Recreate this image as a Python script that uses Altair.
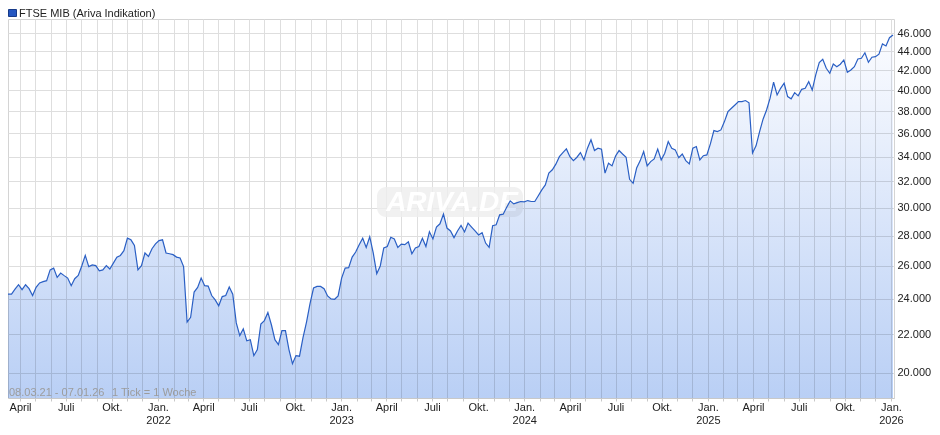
import altair as alt
import pandas as pd

# Weekly FTSE MIB values (index points)
values = [
    24260, 24260, 24560, 24830, 24530, 24830, 24590, 24180, 24670, 24940,
    25020, 25080, 25750, 25860, 25280, 25550, 25390, 25240, 24770, 25200,
    25400, 26000, 26680, 25960, 26070, 26020, 25690, 25750, 26020, 25810,
    26180, 26570, 26680, 26990, 27830, 27720, 27340, 25750, 26020, 26840,
    26610, 27120, 27450, 27670, 27720, 26840, 26790, 26730, 26570, 26510,
    25960, 22660, 22920, 24390, 24670, 25240, 24770, 24750, 24180, 23920,
    23580, 24120, 24180, 24690, 24260, 22610, 21920, 22290, 21640, 21700,
    20870, 21180, 22550, 22740, 23200, 22510, 21700, 21440, 22190, 22190,
    21180, 20460, 20870, 20840, 21810, 22660, 23700, 24630, 24730, 24730,
    24590, 24160, 23980, 23960, 24160, 25240, 25860, 25890, 26570, 26900,
    27390, 27830, 27210, 27930, 26840, 25510, 26000, 27170, 27270, 27890,
    27780, 27210, 27430, 27390, 27580, 26790, 27170, 27270, 27830, 27270,
    28280, 27780, 28600, 28830, 29520, 28530, 28330, 27870, 28330, 28710,
    28260, 28880, 28600, 28330, 28050, 28210, 27500, 27210, 28690, 28760,
    29470, 29520, 30020, 30500, 30270, 30370, 30450, 30420, 30520, 30450,
    30450, 30880, 31330, 31710, 32640, 32910, 33370, 33990, 34330, 34640,
    33990, 33660, 33940, 34330, 33720, 34700, 35420, 34500, 34700, 34620,
    32640, 33450, 33230, 34040, 34500, 34210, 33940, 32150, 31840, 33050,
    33640, 34410, 33230, 33580, 33800, 34620, 33720, 34270, 35270, 34700,
    34560, 33900, 34210, 33660, 33390, 34700, 34840, 33720, 34070, 34130,
    35070, 36230, 36140, 36290, 37040, 37950, 38270, 38580, 38900, 38900,
    39000, 38780, 34300, 34900, 36110, 37260, 38110, 39230, 40790, 39540,
    40190, 40690, 39380, 39160, 39760, 39450, 40090, 40190, 40850, 40020,
    41530, 42800, 43160, 42210, 41700, 42660, 42380, 42630, 43080, 41800,
    42030, 42380, 43190, 43260, 43850, 42840, 43370, 43430, 43690, 44810,
    44590, 45500, 45800,
]
start_date = "2021-03-08"
dates = pd.date_range(start=start_date, periods=len(values), freq="7D").strftime("%Y-%m-%d")
df = pd.DataFrame({"date": list(dates), "value": values})

y_ticks = list(range(20000, 46001, 2000))
y_min, y_max = 18810, 47630
title_text = "FTSE MIB (Ariva Indikation)"
range_text = "08.03.21 - 07.01.26"
tick_text = "1 Tick = 1 Woche"
watermark = "ARIVA.DE"

W, H = 886, 379
FONT = "Liberation Sans"
GRID = "#dedede"

x_scale = alt.Scale(
    type="utc",
    domain=[alt.DateTime(year=2021, month=3, date=8, utc=True),
            alt.DateTime(year=2026, month=1, date=7, utc=True)],
)
y_scale = alt.Scale(type="log", domain=[y_min, y_max], nice=False, zero=False)

x_axis = alt.Axis(
    title=None,
    orient="bottom",
    tickCount={"interval": "month", "step": 1},
    grid=True,
    gridColor=GRID,
    gridWidth=1,
    domain=True,
    domainColor="#c8c8c8",
    ticks=True,
    tickColor="#c8c8c8",
    tickSize=3,
    labelPadding=0,
    labelOverlap=False,
    labelFlush=False,
    labelFont=FONT,
    labelFontSize=11,
    labelColor="#222222",
    labelLineHeight=13,
    labelExpr=(
        "utcmonth(datum.value)==0 ? ['Jan.', utcFormat(datum.value,'%Y')] : "
        "utcmonth(datum.value)==3 ? 'April' : "
        "utcmonth(datum.value)==6 ? 'Juli' : "
        "utcmonth(datum.value)==9 ? 'Okt.' : ''"
    ),
)
y_axis = alt.Axis(
    title=None,
    orient="right",
    values=y_ticks,
    grid=True,
    gridColor=GRID,
    gridWidth=1,
    domain=False,
    ticks=False,
    labelPadding=3,
    labelAlign="left",
    labelBaseline="middle",
    labelFont=FONT,
    labelFontSize=11,
    labelColor="#222222",
    labelExpr="replace(format(datum.value, ','), ',', '.')",
)

one = pd.DataFrame({"k": [0]})

wm_rect = alt.Chart(one).mark_rect(
    fill="#ededed", cornerRadius=9, opacity=0.8
).encode(x=alt.value(369), x2=alt.value(515), y=alt.value(168), y2=alt.value(198))

wm_text = alt.Chart(one).mark_text(
    text=watermark, font=FONT, fontSize=28, fontStyle="italic", fontWeight="bold",
    fill="#ffffff", align="center", baseline="middle",
).encode(x=alt.value(444), y=alt.value(184))

area = alt.Chart(df).mark_area(
    blend="multiply",
    color={
        "gradient": "linear",
        "x1": 0, "x2": 0, "y1": 0, "y2": 1,
        "stops": [
            {"offset": 0, "color": "#fbfcff"},
            {"offset": 1, "color": "#b9cff5"},
        ],
    },
).encode(
    x=alt.X("date:T", scale=x_scale, axis=x_axis),
    y=alt.Y("value:Q", scale=y_scale, axis=y_axis),
    y2=alt.datum(y_min),
)

line = alt.Chart(df).mark_line(color="#2a5fc4", strokeWidth=1.2).encode(
    x=alt.X("date:T", scale=x_scale),
    y=alt.Y("value:Q", scale=y_scale),
)

legend_sq = alt.Chart(one).mark_rect(fill="#2456c0", stroke="#173a88", strokeWidth=1).encode(
    x=alt.value(0.5), x2=alt.value(8.5), y=alt.value(-9.5), y2=alt.value(-2.5)
)
legend_txt = alt.Chart(one).mark_text(
    text=title_text, font=FONT, fontSize=11, color="#222222", align="left", baseline="middle"
).encode(x=alt.value(11), y=alt.value(-5))

range_lbl = alt.Chart(one).mark_text(
    text=range_text, font=FONT, fontSize=11, color="#9c9c9c", align="left", baseline="middle"
).encode(x=alt.value(1), y=alt.value(374))
tick_lbl = alt.Chart(one).mark_text(
    text=tick_text, font=FONT, fontSize=11, color="#9c9c9c", align="left", baseline="middle"
).encode(x=alt.value(104), y=alt.value(374))

chart = alt.layer(
    wm_rect, wm_text, area, line, legend_sq, legend_txt, range_lbl, tick_lbl
).properties(
    width=W,
    height=H,
    autosize=alt.AutoSizeParams(type="none"),
    padding={"left": 0, "top": 11, "right": 38, "bottom": 29},
    background="#ffffff",
).configure_view(stroke="#d4d4d4", strokeWidth=1)

chart.save("out.html", embed_options={"renderer": "svg", "actions": False})
